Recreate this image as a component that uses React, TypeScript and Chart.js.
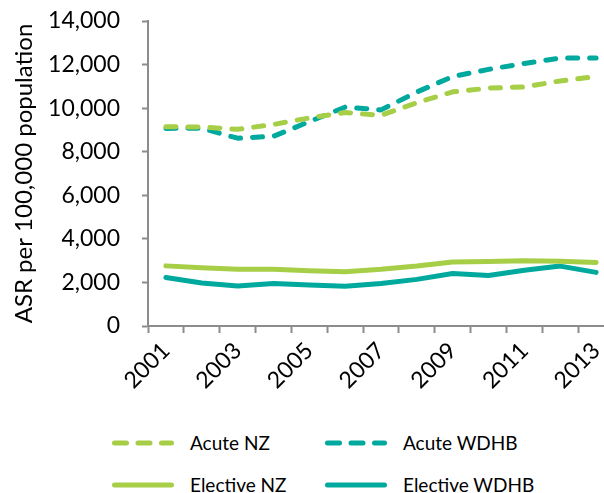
import React, { useEffect, useRef } from "react";
import { Chart, registerables } from "chart.js";

Chart.register(...registerables);

const years = ["2001","2002","2003","2004","2005","2006","2007","2008","2009","2010","2011","2012","2013"];
const acuteNZ = [9150, 9130, 9030, 9250, 9550, 9800, 9670, 10250, 10750, 10920, 10970, 11250, 11450];
const acuteWDHB = [9070, 9080, 8620, 8710, 9380, 10050, 9920, 10740, 11450, 11780, 12050, 12300, 12300];
const electiveNZ = [2760, 2670, 2600, 2600, 2540, 2490, 2600, 2750, 2940, 2960, 3000, 2970, 2920];
const electiveWDHB = [2230, 1970, 1840, 1950, 1880, 1830, 1950, 2140, 2410, 2320, 2560, 2750, 2460];

const yTicks = { min: 0, max: 14000, step: 2000 };
const yTitle = "ASR per 100,000 population";

const GREEN = "#A6CE47";
const TEAL = "#00A99D";
const AXIS = "#8C8C8C";
const FONT = "Lato";

const legendItems = [
  { label: "Acute NZ", color: GREEN, dashed: true },
  { label: "Acute WDHB", color: TEAL, dashed: true },
  { label: "Elective NZ", color: GREEN, dashed: false },
  { label: "Elective WDHB", color: TEAL, dashed: false },
];

export default function App() {
  const ref = useRef<HTMLCanvasElement | null>(null);

  useEffect(() => {
    document.body.style.margin = "0";
    if (!ref.current) return;
    const mk = (label: string, data: number[], color: string, dashed: boolean) => ({
      label,
      data,
      borderColor: color,
      backgroundColor: color,
      borderWidth: 5,
      borderDash: dashed ? [10, 12] : [],
      borderCapStyle: "round" as const,
      borderJoinStyle: "round" as const,
      pointRadius: 0,
      tension: 0,
      fill: false,
    });
    const chart = new Chart(ref.current, {
      type: "line",
      data: {
        labels: years,
        datasets: [
          mk("Acute NZ", acuteNZ, GREEN, true),
          mk("Acute WDHB", acuteWDHB, TEAL, true),
          mk("Elective NZ", electiveNZ, GREEN, false),
          mk("Elective WDHB", electiveWDHB, TEAL, false),
        ],
      },
      options: {
        animation: false,
        responsive: false,
        maintainAspectRatio: false,
        layout: { padding: { top: 21, left: 0, right: 0, bottom: 0 } },
        plugins: { legend: { display: false }, tooltip: { enabled: false } },
        scales: {
          x: {
            offset: true,
            grid: {
              offset: true,
              drawOnChartArea: false,
              drawTicks: true,
              tickLength: 7,
              tickColor: AXIS,
              tickWidth: 2,
              color: AXIS,
            },
            border: { display: true, color: AXIS, width: 2 },
            ticks: {
              autoSkip: false,
              minRotation: 45,
              maxRotation: 45,
              padding: 4,
              color: "#000",
              font: { family: FONT, size: 23 },
              callback: (_v: any, i: number) => (i % 2 === 0 ? years[i] : ""),
            },
            afterFit: (s: any) => {
              s.height = 70;
              s.paddingLeft = 0;
              s.paddingRight = 0;
            },
          },
          y: {
            min: yTicks.min,
            max: yTicks.max,
            grid: {
              drawOnChartArea: false,
              drawTicks: true,
              tickLength: 6,
              tickColor: AXIS,
              tickWidth: 2,
              color: AXIS,
            },
            border: { display: true, color: AXIS, width: 2 },
            ticks: {
              stepSize: yTicks.step,
              padding: 22,
              color: "#000",
              font: { family: FONT, size: 23 },
              callback: (v: any) => Number(v).toLocaleString("en-US"),
            },
            title: {
              display: true,
              text: yTitle,
              color: "#000",
              font: { family: FONT, size: 24 },
              padding: { top: 10, bottom: 0 },
            },
            afterFit: (s: any) => {
              s.width = 148;
              s.paddingTop = 0;
              s.paddingBottom = 0;
            },
          },
        },
      },
    });
    return () => chart.destroy();
  }, []);

  const cols = [112, 325];
  const rows = [443, 485];

  return (
    <div style={{ position: "relative", width: 604, height: 493, overflow: "hidden", background: "#fff", fontFamily: FONT }}>
      <div style={{ position: "absolute", left: 0, top: 0, width: 614, height: 396 }}>
        <canvas ref={ref} width={614} height={396} style={{ width: 614, height: 396, display: "block" }} />
      </div>
      {legendItems.map((it, i) => {
        const x = cols[i % 2];
        const y = rows[Math.floor(i / 2)];
        return (
          <div key={it.label} style={{ position: "absolute", left: x, top: y - 14, height: 28, display: "flex", alignItems: "center", whiteSpace: "nowrap" }}>
            <svg width={62} height={10} style={{ display: "block" }}>
              <line
                x1={2.5}
                y1={5}
                x2={59.5}
                y2={5}
                stroke={it.color}
                strokeWidth={5}
                strokeLinecap="round"
                strokeDasharray={it.dashed ? "12 11.5" : undefined}
              />
            </svg>
            <span style={{ marginLeft: 16, fontSize: 19, color: "#000", lineHeight: "28px" }}>{it.label}</span>
          </div>
        );
      })}
    </div>
  );
}
